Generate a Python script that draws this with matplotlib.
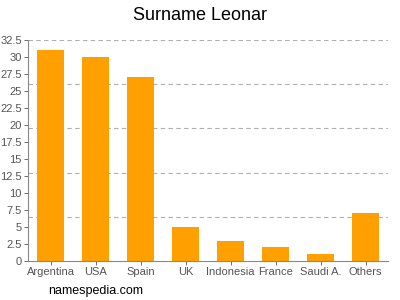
import matplotlib.pyplot as plt
import numpy as np

plt.rcParams['font.family'] = ['Liberation Sans', 'DejaVu Sans']

# Data
countries = ["Argentina", "USA", "Spain", "UK", "Indonesia", "France", "Saudi A.", "Others"]
counts = [31, 30, 27, 5, 3, 2, 1, 7]
yticks = np.arange(0, 32.6, 2.5)
grid_levels = [6.5, 13, 19.5, 26, 32.5]

fig = plt.figure(figsize=(4, 3), dpi=100)
ax = fig.add_axes([0.07, 0.13, 0.9, 0.737])

x = np.arange(len(countries))
ax.bar(x, counts, width=0.62, color="#FFA000", zorder=2)

for g in grid_levels:
    ax.axhline(g, color="#b0b0b0", linestyle=(0, (4, 3)), linewidth=0.8, zorder=1)

ax.set_xlim(-0.5, len(countries) - 0.5)
ax.set_ylim(0, 32.5)
ax.set_xticks(x)
ax.set_xticklabels(countries)
ax.set_yticks(yticks)
ax.set_yticklabels([f"{v:g}" for v in yticks])
ax.tick_params(axis="both", labelsize=8, colors="#555555", length=3, width=0.6, pad=1.5)

for side in ["top", "right"]:
    ax.spines[side].set_visible(False)
for side in ["left", "bottom"]:
    ax.spines[side].set_color("#888888")
    ax.spines[side].set_linewidth(0.8)

fig.text(0.5, 0.95, "Surname Leonar", ha="center", va="center", fontsize=13, color="#000000")
fig.text(0.12, 0.03, "namespedia.com", ha="left", va="center", fontsize=9, color="#000000")

plt.savefig("out.png", dpi=100)
